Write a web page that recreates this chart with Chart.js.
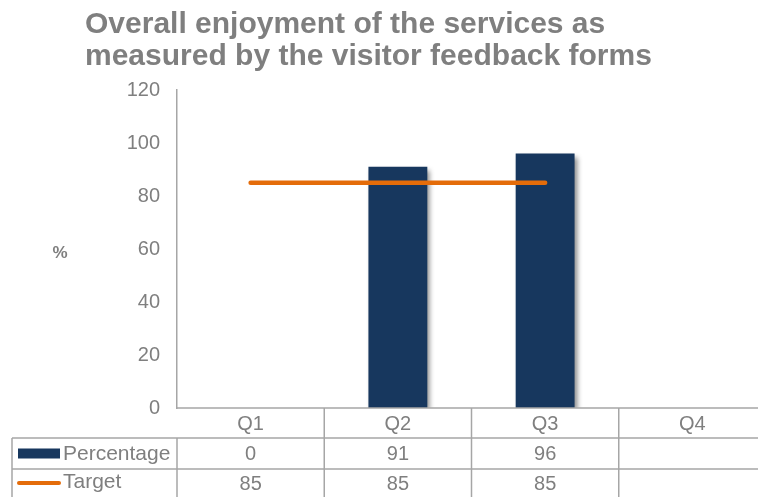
<!DOCTYPE html>
<html>
<head>
<meta charset="utf-8">
<script src="https://cdn.jsdelivr.net/npm/chart.js@4/dist/chart.umd.min.js"></script>
<style>
  html, body { margin: 0; padding: 0; background: #fff; overflow: hidden; }
  #wrap { width: 758px; height: 497px; overflow: hidden; }
</style>
</head>
<body>
<div id="wrap"><canvas id="enjoymentChart" width="766" height="497"></canvas></div>
<script>
const quarters = ["Q1", "Q2", "Q3", "Q4"];
const percentage = [0, 91, 96, null];
const target = [85, 85, 85, null];
const yTicks = [0, 20, 40, 60, 80, 100, 120];
const titleLines = ["Overall enjoyment of the services as", "measured by the visitor feedback forms"];

const GREY = "#7f7f7f";
const LINE_GREY = "#a6a6a6";
const NAVY = "#17375e";
const ORANGE = "#e46c0a";
const FONT = "'Liberation Sans', Arial, sans-serif";

const barShadow = {
    id: "barShadow",
    beforeDatasetDraw(chart, args) {
        if (args.index !== 0) return;
        const ctx = chart.ctx;
        ctx.save();
        ctx.shadowColor = "rgba(0,0,0,0.45)";
        ctx.shadowBlur = 5;
        ctx.shadowOffsetX = 3;
        ctx.shadowOffsetY = 3;
    },
    afterDatasetDraw(chart, args) {
        if (args.index !== 0) return;
        chart.ctx.restore();
    }
};

const tableAndTitle = {
    id: "tableAndTitle",
    afterDraw(chart) {
        const ctx = chart.ctx;
        const area = chart.chartArea;
        const x = chart.scales.x;
        const right = chart.width;
        const left = 12;
        const rowTop = area.bottom;
        const row1 = rowTop + 30;
        const row2 = row1 + 31;
        const row3 = chart.height;
        const step = (area.right - area.left) / quarters.length;

        ctx.save();
        // title
        ctx.fillStyle = GREY;
        ctx.font = "bold 30px " + FONT;
        ctx.textAlign = "left";
        ctx.textBaseline = "alphabetic";
        ctx.fillText(titleLines[0], 85, 33);
        ctx.fillText(titleLines[1], 85, 65);

        // axis title
        ctx.font = "bold 17px " + FONT;
        ctx.textAlign = "center";
        ctx.textBaseline = "middle";
        ctx.fillText("%", 60, 253);

        // table grid
        ctx.strokeStyle = LINE_GREY;
        ctx.lineWidth = 1.5;
        ctx.beginPath();
        ctx.moveTo(area.left, rowTop); ctx.lineTo(right, rowTop);
        ctx.moveTo(left, row1); ctx.lineTo(right, row1);
        ctx.moveTo(left, row2); ctx.lineTo(right, row2);
        ctx.moveTo(left, row1); ctx.lineTo(left, row3);
        ctx.moveTo(area.left, row1); ctx.lineTo(area.left, row3);
        for (let i = 1; i < quarters.length; i++) {
            const bx = area.left + step * i;
            ctx.moveTo(bx, rowTop); ctx.lineTo(bx, row3);
        }
        ctx.stroke();

        // cells
        ctx.fillStyle = GREY;
        ctx.font = "20px " + FONT;
        ctx.textAlign = "center";
        ctx.textBaseline = "middle";
        quarters.forEach((q, i) => {
            const cx = x.getPixelForValue(i);
            ctx.fillText(q, cx, (rowTop + row1) / 2 + 1);
            if (percentage[i] !== null) ctx.fillText(String(percentage[i]), cx, (row1 + row2) / 2 + 1);
            if (target[i] !== null) ctx.fillText(String(target[i]), cx, (row2 + row3) / 2 + 1);
        });

        // legend keys
        ctx.fillStyle = NAVY;
        ctx.fillRect(18, (row1 + row2) / 2 - 5, 42, 10);
        ctx.strokeStyle = ORANGE;
        ctx.lineWidth = 4;
        ctx.lineCap = "round";
        ctx.beginPath();
        ctx.moveTo(19, (row2 + row3) / 2);
        ctx.lineTo(59, (row2 + row3) / 2);
        ctx.stroke();

        ctx.fillStyle = GREY;
        ctx.font = "21px " + FONT;
        ctx.textAlign = "left";
        ctx.fillText("Percentage", 63, (row1 + row2) / 2 + 1);
        ctx.fillText("Target", 63, (row2 + row3) / 2 - 1);
        ctx.restore();
    }
};

new Chart(document.getElementById("enjoymentChart"), {
    data: {
        labels: quarters,
        datasets: [
            {
                type: "bar",
                label: "Percentage",
                data: percentage,
                backgroundColor: NAVY,
                borderWidth: 0,
                categoryPercentage: 0.4,
                barPercentage: 1,
                order: 2
            },
            {
                type: "line",
                label: "Target",
                data: target,
                borderColor: ORANGE,
                borderWidth: 4.5,
                borderCapStyle: "round",
                pointRadius: 0,
                fill: false,
                order: 1
            }
        ]
    },
    options: {
        responsive: false,
        animation: false,
        layout: { padding: { top: 90, bottom: 89, left: 0, right: 0 } },
        plugins: {
            legend: { display: false },
            tooltip: { enabled: false },
            title: { display: false }
        },
        scales: {
            x: {
                display: false,
                offset: true
            },
            y: {
                min: 0,
                max: 120,
                afterFit(scale) { scale.width = 177; },
                afterBuildTicks(scale) { scale.ticks = yTicks.map(v => ({ value: v })); },
                grid: { display: false, drawTicks: false },
                border: { display: true, color: LINE_GREY, width: 1.5 },
                ticks: {
                    color: GREY,
                    padding: 17,
                    font: { family: FONT, size: 20 }
                }
            }
        }
    },
    plugins: [barShadow, tableAndTitle]
});
</script>
</body>
</html>
